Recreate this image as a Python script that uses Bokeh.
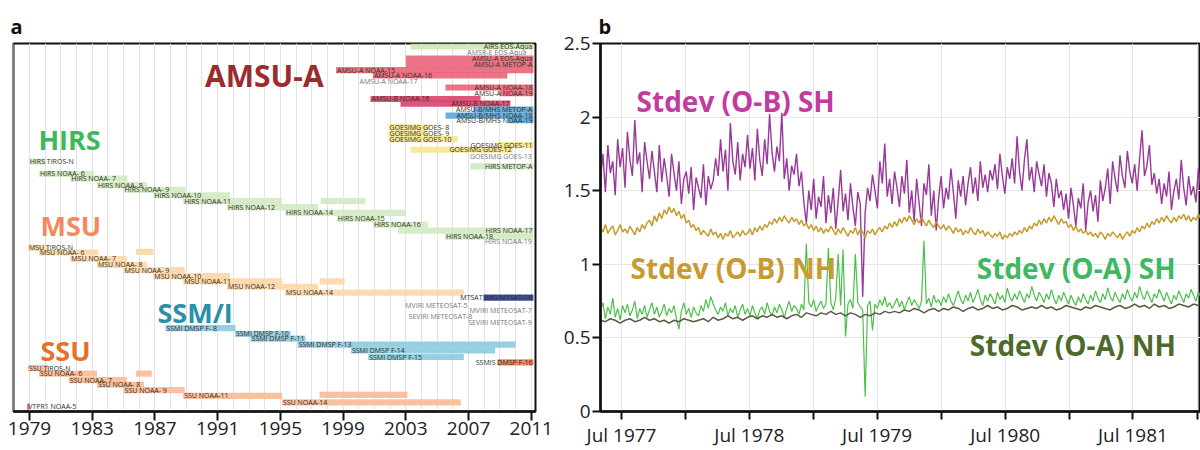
import pandas as pd
from bokeh.plotting import figure
from bokeh.models import Range1d, FixedTicker, CustomJSTickFormatter, Label, ColumnDataSource
from bokeh.layouts import row
from bokeh.embed import file_html
from bokeh.resources import INLINE
from bokeh.core.properties import value

FONT = "Open Sans"

# ---------------- Panel a: satellite instrument usage (years) ----------------
inst_names = [
    "AIRS EOS-Aqua", "AMSR-E EOS-Aqua", "AMSU-A EOS-Aqua", "AMSU-A METOP-A",
    "AMSU-A NOAA-15", "AMSU-A NOAA-16", "AMSU-A NOAA-17", "AMSU-A NOAA-18",
    "AMSU-A NOAA-19", "AMSU-B NOAA-16", "AMSU-B NOAA-17", "AMSU-B/MHS METOP-A",
    "AMSU-B/MHS NOAA-18", "AMSU-B/MHS NOAA-19", "GOESIMG GOES- 8", "GOESIMG GOES- 9",
    "GOESIMG GOES-10", "GOESIMG GOES-11", "GOESIMG GOES-12", "GOESIMG GOES-13",
    "HIRS METOP-A", "HIRS TIROS-N", "HIRS NOAA- 6", "HIRS NOAA- 7", "HIRS NOAA- 8",
    "HIRS NOAA- 9", "HIRS NOAA-10", "HIRS NOAA-11", "HIRS NOAA-12", "HIRS NOAA-14",
    "HIRS NOAA-15", "HIRS NOAA-16", "HIRS NOAA-17", "HIRS NOAA-18", "HIRS NOAA-19",
    "MSU TIROS-N", "MSU NOAA- 6", "MSU NOAA- 7", "MSU NOAA- 8", "MSU NOAA- 9",
    "MSU NOAA-10", "MSU NOAA-11", "MSU NOAA-12", "MSU NOAA-14",
    "MTSAT IMG MTSAT-1R", "MVIRI METEOSAT-5", "MVIRI METEOSAT-7",
    "SEVIRI METEOSAT-8", "SEVIRI METEOSAT-9",
    "SSMI DMSP F- 8", "SSMI DMSP F-10", "SSMI DMSP F-11", "SSMI DMSP F-13",
    "SSMI DMSP F-14", "SSMI DMSP F-15", "SSMIS DMSP F-16",
    "SSU TIROS-N", "SSU NOAA- 6", "SSU NOAA- 7", "SSU NOAA- 8", "SSU NOAA- 9",
    "SSU NOAA-11", "SSU NOAA-14", "VTPR1 NOAA-5",
]
inst_start = [
    2003.3, 2010.76, 2003.0, 2003.0,
    1998.55, 2000.9, 1999.98, 2005.53,
    2009.0, 2000.75, 2002.66, 2007.3,
    2005.53, 2009.5, 2001.9, 2001.9,
    2001.9, 2008.85, 2003.3, 2011.1,
    2007.1, 1978.95, 1979.6, 1981.6, 1983.3,
    1985.0, 1986.9, 1988.8, 1991.6, 1995.3,
    1998.6, 2000.9, 2002.5, 2005.5, 2011.1,
    1978.9, 1979.6, 1981.6, 1983.3, 1985.0,
    1986.9, 1988.8, 1991.6, 1995.3,
    2007.95, 2007.0, 2011.1,
    2007.3, 2011.1,
    1987.67, 1992.1, 1993.1, 1996.1,
    1999.5, 2000.6, 2008.85,
    1978.9, 1979.6, 1981.5, 1983.3, 1985.0,
    1988.8, 1995.1, 1978.85,
]
inst_end = [
    2011.14, 2010.76, 2011.14, 2011.14,
    2011.14, 2009.47, 1999.98, 2011.14,
    2011.14, 2007.77, 2009.67, 2011.14,
    2011.14, 2011.14, 2004.5, 2004.3,
    2006.3, 2011.14, 2009.8, 2011.1,
    2011.14, 1980.0, 1983.1, 1985.25, 1986.5,
    1988.95, 1991.8, 1995.1, 1997.4, 2003.0,
    2001.5, 2004.4, 2011.14, 2011.14, 2011.1,
    1980.2, 1983.4, 1985.2, 1986.5, 1988.9,
    1991.8, 1995.1, 1997.4, 2006.7,
    2011.14, 2007.0, 2011.1,
    2007.3, 2011.1,
    1992.14, 1995.65, 1996.6, 2010.0,
    2008.7, 2006.7, 2011.14,
    1980.2, 1983.3, 1985.2, 1986.3, 1988.9,
    1995.1, 2006.5, 1979.0,
]
inst_lane = [
    0.5, 1.6, 2.55, 3.55,
    4.5, 5.4, 6.45, 7.45,
    8.4, 9.4, 10.2, 11.2,
    12.2, 13.0, 14.2, 15.2,
    16.2, 17.2, 18.0, 19.1,
    20.8, 20.0, 22.1, 22.9, 24.0,
    24.8, 25.7, 26.7, 27.7, 28.7,
    29.7, 30.7, 31.7, 32.7, 33.6,
    34.6, 35.4, 36.5, 37.5, 38.4,
    39.4, 40.3, 41.2, 42.2,
    43.05, 44.45, 45.3,
    46.3, 47.3,
    48.2, 49.2, 50.0, 51.0,
    52.0, 53.1, 54.0,
    55.0, 55.9, 57.0, 57.8, 58.7,
    59.7, 60.8, 61.5,
]
# labels drawn at the end of their bar instead of at the start
right_labelled = {
    "AIRS EOS-Aqua", "AMSR-E EOS-Aqua", "AMSU-A EOS-Aqua", "AMSU-A METOP-A",
    "AMSU-A NOAA-18", "AMSU-A NOAA-19", "AMSU-B NOAA-17", "AMSU-B/MHS METOP-A",
    "AMSU-B/MHS NOAA-18", "AMSU-B/MHS NOAA-19", "GOESIMG GOES-11", "GOESIMG GOES-12",
    "GOESIMG GOES-13", "HIRS METOP-A", "HIRS NOAA-17", "HIRS NOAA-19",
    "MTSAT IMG MTSAT-1R", "MVIRI METEOSAT-5", "MVIRI METEOSAT-7",
    "SEVIRI METEOSAT-8", "SEVIRI METEOSAT-9", "SSMIS DMSP F-16",
}
# second periods of use (no label)
extra_names = ["HIRS NOAA-11", "MSU NOAA- 6", "MSU NOAA-11", "SSU NOAA- 6", "SSU NOAA-11"]
extra_start = [1997.56, 1985.8, 1997.5, 1985.8, 1997.5]
extra_end = [2000.43, 1986.9, 1999.1, 1986.8, 2003.1]
extra_lane = [26.7, 35.3, 40.3, 55.9, 59.5]

year_ticks = [1979, 1983, 1987, 1991, 1995, 1999, 2003, 2007, 2011]

# ---------------- Panel b: weekly Stdev series (x100) ----------------
ob_sh_x100 = [
    158,175,149,181,162,170,147,185,166,179,
    152,190,171,160,198,168,176,149,183,170,
    158,177,163,149,181,156,172,160,146,175,
    162,150,170,141,158,163,148,166,137,159,
    152,145,168,140,160,151,157,172,160,185,
    163,178,150,196,170,161,183,157,175,166,
    188,165,179,157,192,171,160,185,168,202,
    176,163,180,170,203,158,172,150,167,161,
    175,153,163,142,128,150,137,158,131,146,
    139,160,128,147,135,152,124,143,164,136,
    148,130,155,139,126,149,141,78,135,152,
    143,161,150,138,170,155,182,146,158,141,
    163,152,139,160,148,171,135,150,129,158,
    142,126,155,147,168,133,150,123,145,160,
    138,152,144,165,149,131,157,146,160,140,
    155,166,148,159,143,170,152,161,149,164,
    157,168,151,175,160,148,166,158,172,155,
    187,163,150,171,185,157,166,149,170,161,
    153,168,146,162,155,139,158,145,150,137,
    148,131,152,140,126,145,138,155,123,142,
    150,136,147,129,157,143,152,165,141,170,
    158,149,174,160,152,177,163,155,168,150,
    172,191,160,167,181,154,162,148,158,141,
    155,146,163,137,150,158,144,171,152,140,
    160,147,153,142,165,150,
]
ob_nh_x100 = [
    125,122,127,121,124,126,120,123,127,122,
    124,121,126,123,120,125,122,127,124,128,
    130,126,133,129,135,131,137,134,139,135,
    138,133,136,131,134,128,130,125,127,123,
    125,120,123,121,119,124,120,122,118,121,
    117,121,119,123,118,120,122,119,123,120,
    121,124,120,125,122,126,123,127,125,129,
    127,131,128,132,129,133,130,128,132,129,
    131,127,130,126,128,124,127,123,126,122,
    125,121,124,122,126,123,120,124,121,125,
    122,119,123,121,125,120,124,122,118,123,
    121,124,120,123,125,122,126,124,128,125,
    129,126,131,128,132,129,133,130,127,131,
    128,132,129,126,130,127,125,129,126,124,
    127,123,126,124,121,125,122,124,120,123,
    121,125,122,120,124,121,123,119,122,120,
    118,121,119,122,117,120,118,121,119,122,
    120,123,121,125,122,126,124,128,126,130,
    127,131,128,132,129,133,130,127,131,128,
    129,125,127,123,126,122,124,121,123,120,
    122,119,121,118,122,120,117,121,119,122,
    120,118,121,117,120,122,119,123,121,125,
    122,126,124,128,125,129,127,131,128,132,
    129,133,130,128,132,129,133,131,134,130,
    133,129,132,130,134,131,
]
oa_sh_x100 = [
    68,74,63,71,66,77,64,70,62,72,
    67,73,65,69,75,63,70,66,72,64,
    69,74,66,71,64,68,73,65,70,67,
    72,63,56,68,74,66,70,64,71,67,
    65,72,68,76,70,78,73,69,66,71,
    68,74,65,70,67,72,64,69,73,66,
    70,65,72,67,63,69,71,66,74,68,
    65,71,67,73,69,64,70,75,68,72,
    70,66,73,69,114,74,71,76,68,72,
    75,70,73,111,74,69,77,107,72,110,
    51,73,76,70,107,74,71,69,10,72,
    75,55,73,70,76,72,78,71,74,70,
    73,77,71,75,69,74,78,72,76,73,
    70,75,116,73,77,71,79,74,76,72,
    78,74,80,75,72,77,82,76,73,79,
    75,81,74,78,83,76,72,79,75,80,
    77,73,81,76,79,74,84,78,75,80,
    76,82,78,74,80,77,85,79,75,81,
    78,74,80,76,83,77,73,79,75,81,
    77,73,79,75,72,78,74,80,76,73,
    79,75,82,77,74,80,76,84,78,75,
    81,77,74,80,76,83,78,75,81,77,
    85,79,76,82,78,74,80,77,83,79,
    75,81,77,73,79,76,82,78,74,80,
    77,83,79,75,81,78,
]
# fortnightly
oa_nh_x100 = [
    62,61,63,62,60,62,63,61,62,64,
    62,63,61,62,60,62,61,63,62,61,
    62,63,61,64,62,63,65,63,64,62,
    64,65,63,65,64,66,64,65,63,65,
    66,64,67,66,65,67,66,68,66,67,
    65,67,66,64,66,65,67,66,68,67,
    68,67,69,68,70,69,67,69,70,68,
    70,69,71,70,68,70,71,69,70,72,
    70,71,69,70,72,71,69,70,71,70,
    72,70,71,69,70,72,71,70,69,71,
    70,72,71,70,69,71,72,70,71,73,
    71,72,70,73,71,72,70,71,73,72,
    71,73,72,
]
series_start = "1977-05-02"
y_ticks_b = [0, 0.5, 1, 1.5, 2, 2.5]

# ====================== build panel a ======================
group_colors = [
    ("AMSU-B/MHS", "#5aa6da"), ("AMSU-B", "#d9436c"), ("AMSU-A", "#ea6479"),
    ("AIRS", "#cfe8b2"), ("AMSR", "#ffffff"), ("GOESIMG", "#f6e48e"),
    ("HIRS", "#d2eac2"), ("MSU", "#fdd6a6"), ("MTSAT", "#2b3d8a"),
    ("MVIRI", "#e3efcd"), ("SEVIRI", "#f4f0c8"), ("SSMIS", "#f2774f"),
    ("SSMI", "#8ccae0"), ("SSU", "#fbba93"), ("VTPR1", "#e0508a"),
]


def color_of(name):
    for pre, c in group_colors:
        if name.startswith(pre):
            return c
    return "#cccccc"


pa = figure(width=556, height=450, x_range=Range1d(1977.98, 2011.27),
            y_range=Range1d(62.33, 0), output_backend="svg", toolbar_location=None,
            y_axis_location=None, min_border_left=13, min_border_right=21,
            min_border_top=40, min_border_bottom=0)
pa.title.text = "a"
pa.title.text_font = FONT
pa.title.text_font_size = "20px"
pa.title.text_font_style = "bold"
pa.title.text_color = "#111111"
pa.title.standoff = 8
pa.title.offset = -3
pa.outline_line_color = "#111111"
pa.outline_line_width = 2
pa.background_fill_color = "white"
pa.border_fill_color = "white"

bar_src = ColumnDataSource(dict(
    lane=inst_lane + extra_lane,
    start=inst_start + extra_start,
    end=inst_end + extra_end,
    color=[color_of(n) for n in inst_names + extra_names],
))
pa.hbar(y="lane", left="start", right="end", height=1.05, fill_color="color",
        line_color=None, fill_alpha=0.9, source=bar_src)

lx, ly, lt, lc = [], [], [], []
rx, ry, rt, rc = [], [], [], []
for n, s, e, ln in zip(inst_names, inst_start, inst_end, inst_lane):
    col = "#777777" if s == e else "#2e2e22"
    if n in right_labelled:
        rx.append(e); ry.append(ln); rt.append(n); rc.append(col)
    else:
        lx.append(s); ly.append(ln); lt.append(n); lc.append(col)
pa.text(x=lx, y=ly, text=lt, text_color=lc, text_font=value(FONT),
        text_font_size="7px", text_align="left", text_baseline="middle", x_offset=1)
pa.text(x=rx, y=ry, text=rt, text_color=rc, text_font=value(FONT),
        text_font_size="7px", text_align="right", text_baseline="middle", x_offset=-1)

for txt, x, y, col, fs in [("AMSU-A", 1990.2, 5.5, "#9c2b2e", "30px"),
                           ("HIRS", 1979.57, 16.2, "#3db85c", "27px"),
                           ("MSU", 1979.7, 30.8, "#f4895c", "27px"),
                           ("SSM/I", 1987.16, 45.5, "#2a8fa8", "27px"),
                           ("SSU", 1979.7, 52.0, "#e5722b", "27px")]:
    pa.add_layout(Label(x=x, y=y, text=txt, text_color=col, text_font=FONT,
                        text_font_size=fs, text_font_style="bold",
                        text_baseline="middle", text_align="left"))

ax = pa.xaxis[0]
ax.ticker = FixedTicker(ticks=year_ticks, minor_ticks=list(range(1978, 2012)))
ax.formatter = CustomJSTickFormatter(code="return String(tick);")
ax.axis_line_width = 2.5
ax.axis_line_color = "#111111"
ax.major_tick_line_width = 2
ax.major_tick_line_color = "#111111"
ax.major_tick_out = 9
ax.major_tick_in = 0
ax.minor_tick_line_color = None
ax.major_label_text_font = FONT
ax.major_label_text_font_size = "19px"
ax.major_label_text_color = "#222222"
ax.major_label_standoff = 1
pa.xgrid.grid_line_color = "#e3e3e3"
pa.xgrid.minor_grid_line_color = "#e3e3e3"
pa.ygrid.visible = False

# ====================== build panel b ======================
dates_w = pd.date_range(series_start, periods=len(ob_sh_x100), freq="7D")
dates_f = pd.date_range(series_start, periods=len(oa_nh_x100), freq="14D")


def ms(s):
    return pd.Timestamp(s).value / 1e6


pb = figure(width=644, height=450, x_axis_type="datetime",
            x_range=Range1d(ms("1977-05-02"), ms("1982-01-10")), y_range=Range1d(0, 2.5),
            output_backend="svg", toolbar_location=None,
            min_border_left=44, min_border_right=0, min_border_top=43, min_border_bottom=0)
pb.title.text = "b"
pb.title.text_font = FONT
pb.title.text_font_size = "20px"
pb.title.text_font_style = "bold"
pb.title.text_color = "#111111"
pb.title.standoff = 7
pb.title.offset = -2
pb.outline_line_color = "#111111"
pb.outline_line_width = 2

pb.line(dates_w, [v / 100 for v in ob_sh_x100], line_color="#922e95", line_width=1.4, line_alpha=0.95)
pb.line(dates_w, [v / 100 for v in ob_nh_x100], line_color="#c79a2c", line_width=1.5)
pb.line(dates_w, [v / 100 for v in oa_sh_x100], line_color="#4cc04a", line_width=1.2)
pb.line(dates_f, [v / 100 for v in oa_nh_x100], line_color="#5a5a44", line_width=1.5)

for txt, d, y, col in [("Stdev (O-B) SH", "1977-08-13", 2.11, "#c23c9e"),
                       ("Stdev (O-B) NH", "1977-07-27", 0.976, "#c99a2e"),
                       ("Stdev (O-A) SH", "1980-04-11", 0.976, "#3fb862"),
                       ("Stdev (O-A) NH", "1980-03-22", 0.45, "#4e6a2b")]:
    pb.add_layout(Label(x=ms(d), y=y, text=txt, text_color=col, text_font=FONT,
                        text_font_size="28px", text_font_style="bold",
                        text_baseline="middle", text_align="left"))

half_years = []
for yr in range(1977, 1983):
    half_years += [ms(f"{yr}-01-01"), ms(f"{yr}-07-01")]
bx = pb.xaxis[0]
bx.ticker = FixedTicker(ticks=half_years)
bx.formatter = CustomJSTickFormatter(code="""
const d = new Date(tick);
return d.getUTCMonth() == 6 ? "Jul " + d.getUTCFullYear() : "";
""")
by = pb.yaxis[0]
by.ticker = FixedTicker(ticks=y_ticks_b)
by.formatter = CustomJSTickFormatter(code="return String(tick);")
for a in (bx, by):
    a.axis_line_width = 2.5
    a.axis_line_color = "#111111"
    a.major_tick_line_width = 2
    a.major_tick_line_color = "#111111"
    a.major_tick_out = 8
    a.major_tick_in = 0
    a.minor_tick_line_color = None
    a.major_label_text_font = FONT
    a.major_label_text_font_size = "19px"
    a.major_label_text_color = "#222222"
    a.major_label_standoff = 2
pb.xgrid.grid_line_color = "#e6e6e6"
pb.ygrid.grid_line_color = "#e6e6e6"

layout = row(pa, pb)
open("out.html", "w").write(file_html(layout, INLINE))
